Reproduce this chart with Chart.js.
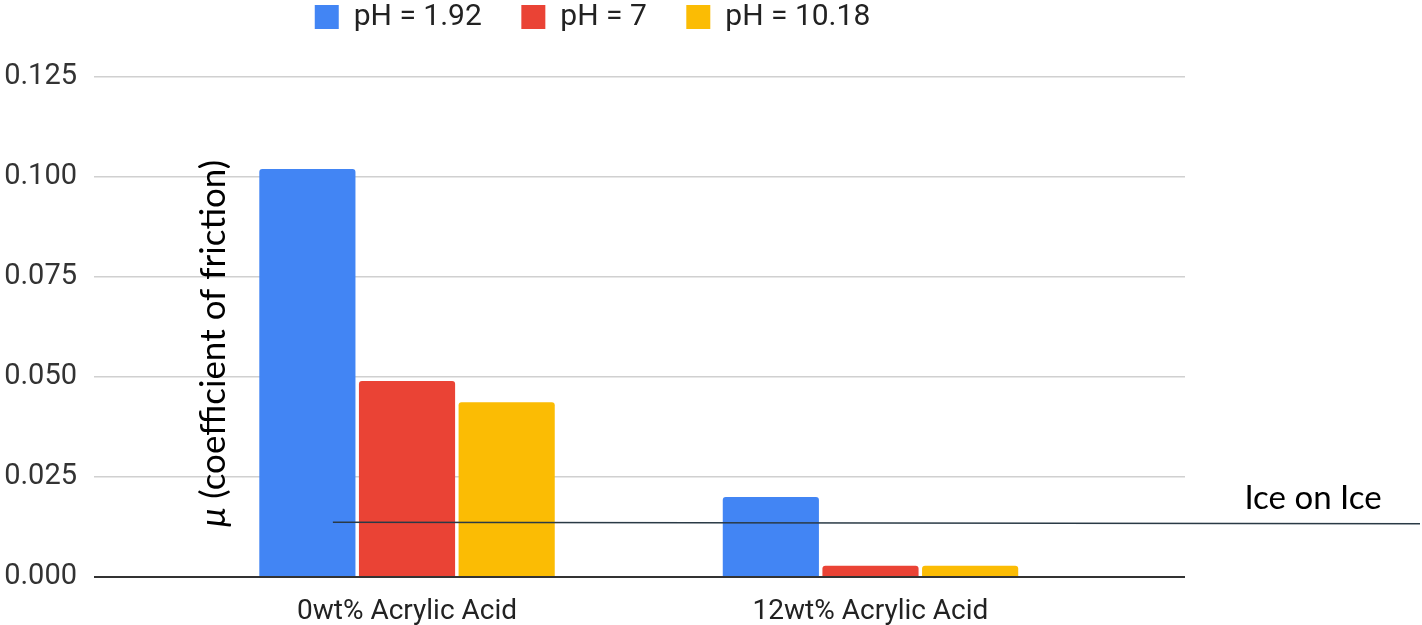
<!DOCTYPE html>
<html>
<head>
<meta charset="utf-8">
<script src="https://cdn.jsdelivr.net/npm/chart.js@4"></script>
<style>
  html, body { margin: 0; padding: 0; background: #fff; }
  #wrap { width: 1422px; height: 625px; }
</style>
</head>
<body>
<div id="wrap"><canvas id="frictionChart"></canvas></div>
<script>
const categories = ['0wt% Acrylic Acid', '12wt% Acrylic Acid'];
const seriesNames = ['pH = 1.92', 'pH = 7', 'pH = 10.18'];
const ph192 = [0.102, 0.020];
const ph7 = [0.049, 0.0028];
const ph1018 = [0.0437, 0.0028];
const yTicks = [0, 0.025, 0.05, 0.075, 0.1, 0.125];
// hand-drawn reference line (slightly tilted), start and end value
const iceOnIce = [0.0137, 0.0133];

const colors = ['#4285f4', '#ea4335', '#fbbc04'];

function toPoints(values) {
    return values.map((v, i) => ({ x: i, y: v }));
}

// overlay: y title and the "Ice on Ice" line
const overlayPlugin = {
    id: 'overlay',
    afterDraw(chart) {
        const ctx = chart.ctx;
        const x = chart.scales.x;
        const y = chart.scales.y;

        // Ice on Ice line
        ctx.save();
        ctx.strokeStyle = '#2a3a46';
        ctx.lineWidth = 1.6;
        ctx.beginPath();
        ctx.moveTo(x.getPixelForValue(-0.16), y.getPixelForValue(iceOnIce[0]));
        ctx.lineTo(chart.width - 2, y.getPixelForValue(iceOnIce[1]));
        ctx.stroke();
        ctx.fillStyle = '#000';
        ctx.font = '33px Lato';
        ctx.textAlign = 'center';
        ctx.textBaseline = 'alphabetic';
        ctx.fillText('Ice on Ice', chart.width - 109, y.getPixelForValue(iceOnIce[1]) - 15);
        ctx.restore();

        // rotated y axis title
        ctx.save();
        ctx.translate(225, 527);
        ctx.rotate(-Math.PI / 2);
        ctx.fillStyle = '#000';
        ctx.textBaseline = 'alphabetic';
        ctx.textAlign = 'left';
        ctx.font = 'italic 35px Lato';
        ctx.fillText('\u03bc', 0, 0);
        const w = ctx.measureText('\u03bc').width;
        ctx.font = '35px Lato';
        ctx.fillText(' (coefficient of friction)', w, 0);
        ctx.restore();
    }
};

const ctx = document.getElementById('frictionChart').getContext('2d');
const frictionChart = new Chart(ctx, {
    type: 'bar',
    data: {
        datasets: [ph192, ph7, ph1018].map((vals, i) => ({
            label: seriesNames[i],
            data: toPoints(vals),
            backgroundColor: colors[i],
            borderRadius: 3,
            borderSkipped: 'start',
            categoryPercentage: 0.645,
            barPercentage: 0.965
        }))
    },
    options: {
        responsive: true,
        maintainAspectRatio: false,
        animation: false,
        layout: {
            padding: { top: -37.5, right: 237, left: 0, bottom: 0 }
        },
        plugins: {
            legend: {
                position: 'top',
                labels: {
                    boxWidth: 24,
                    boxHeight: 24,
                    padding: 39.5,
                    color: '#222',
                    font: { family: 'Roboto', size: 30 }
                }
            },
            // empty title used as spacer between legend and plot
            title: {
                display: true,
                text: '',
                weight: 500,
                font: { size: 1, lineHeight: 1 },
                padding: { top: 34, bottom: 0 }
            },
            tooltip: { enabled: false }
        },
        scales: {
            x: {
                type: 'linear',
                offset: false,
                min: -0.6754,
                max: 1.6786,
                grid: { display: false },
                border: { display: false },
                afterBuildTicks: (scale) => {
                    scale.ticks = categories.map((c, i) => ({ value: i }));
                },
                afterFit: (scale) => { scale.height = 48; },
                ticks: {
                    padding: 10,
                    color: '#222',
                    font: { family: 'Roboto', size: 28 },
                    maxRotation: 0,
                    autoSkip: false,
                    callback: (v) => categories[v]
                }
            },
            y: {
                min: 0,
                max: 0.125,
                afterBuildTicks: (scale) => {
                    scale.ticks = yTicks.map(v => ({ value: v }));
                },
                afterFit: (scale) => { scale.width = 94; },
                border: { display: false },
                grid: {
                    drawTicks: false,
                    color: (c) => c.tick && c.tick.value === 0 ? '#333' : '#d0d0d0',
                    lineWidth: (c) => c.tick && c.tick.value === 0 ? 2 : 1.5
                },
                ticks: {
                    padding: 17,
                    color: '#333',
                    font: { family: 'Roboto', size: 29 },
                    callback: (v) => v.toFixed(3)
                }
            }
        }
    },
    plugins: [overlayPlugin]
});
</script>
</body>
</html>
